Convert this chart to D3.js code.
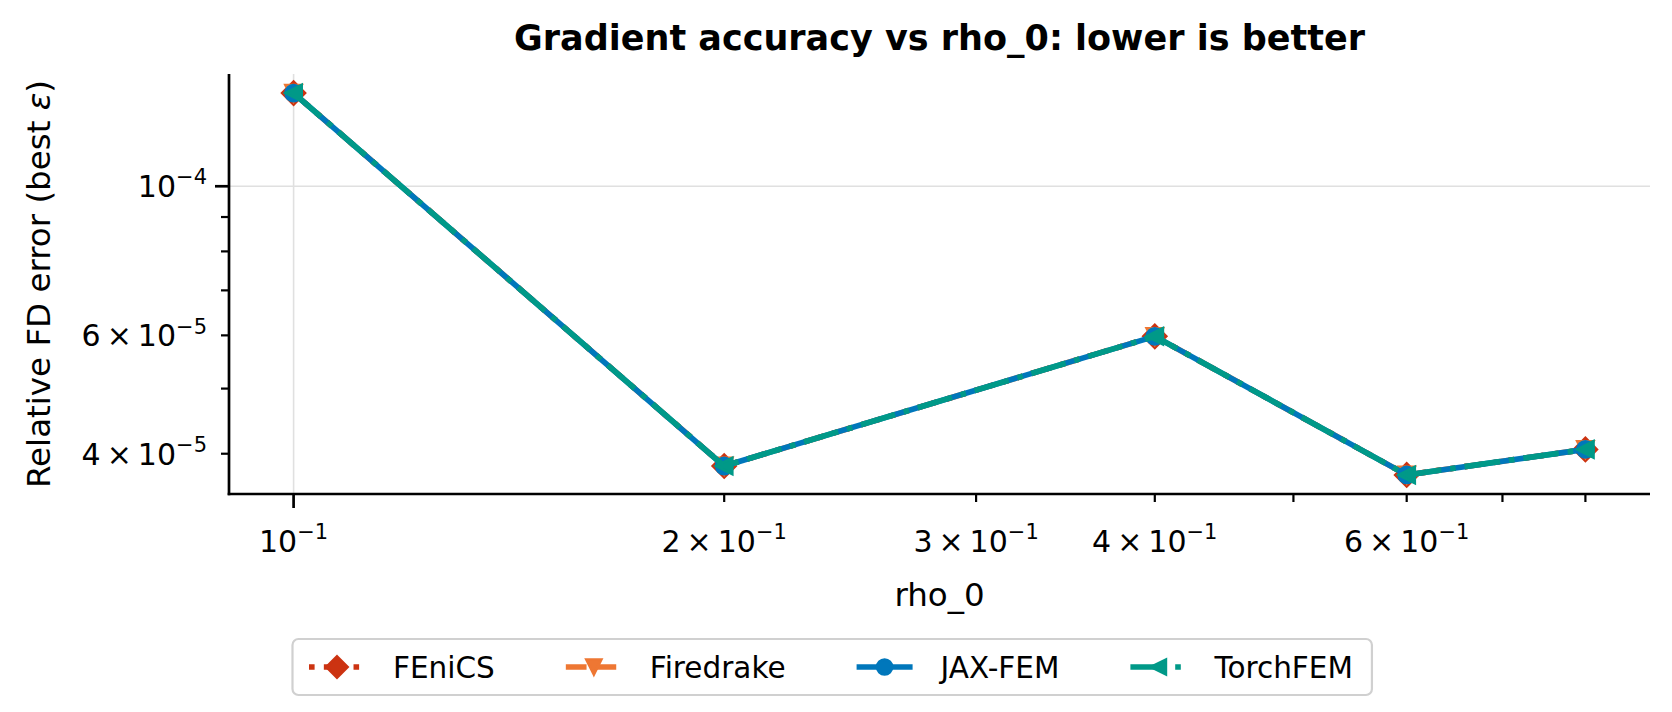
<!DOCTYPE html>
<html>
<head>
<meta charset="utf-8">
<script src="https://cdn.jsdelivr.net/npm/d3@7"></script>
<style>
  html, body { margin: 0; padding: 0; background: #ffffff; }
  svg { display: block; }
  text { font-family: "DejaVu Sans", sans-serif; fill: #000; }
</style>
</head>
<body>
<svg id="chart" width="1672" height="712"></svg>
<script>
// ---------------- data ----------------
const rho0 = [0.1, 0.2, 0.4, 0.6, 0.8];
const fenicsErr    = [1.376e-4, 3.835e-5, 5.98e-5, 3.72e-5, 4.06e-5];
const firedrakeErr = [1.376e-4, 3.835e-5, 5.98e-5, 3.72e-5, 4.06e-5];
const jaxfemErr    = [1.376e-4, 3.835e-5, 5.98e-5, 3.72e-5, 4.06e-5];
const torchfemErr  = [1.376e-4, 3.835e-5, 5.98e-5, 3.72e-5, 4.06e-5];
const seriesNames  = ["FEniCS", "Firedrake", "JAX-FEM", "TorchFEM"];

const xMajorTicks = [0.1];
const xMinorTicks = [0.2, 0.3, 0.4, 0.5, 0.6, 0.7, 0.8];
const xTickLabels = [[0.1, "", "\u22121"], [0.2, "2", "\u22121"], [0.3, "3", "\u22121"], [0.4, "4", "\u22121"], [0.6, "6", "\u22121"]];
const yMajorTicks = [1e-4];
const yMinorTicks = [4e-5, 5e-5, 6e-5, 7e-5, 8e-5, 9e-5];
const yTickLabels = [[1e-4, "", "\u22124"], [6e-5, "6", "\u22125"], [4e-5, "4", "\u22125"]];

const titleText = "Gradient accuracy vs rho_0: lower is better";
const xLabelText = "rho_0";
const yLabelText = "Relative FD error (best ";

(function () {
const styles = [
  { color: "#CC3311", dash: "dotted",  marker: "diamond" },
  { color: "#EE7733", dash: "dashed",  marker: "tridown" },
  { color: "#0077BB", dash: "solid",   marker: "circle" },
  { color: "#009988", dash: "dashdot", marker: "trileft" }
];
const allSeries = [fenicsErr, firedrakeErr, jaxfemErr, torchfemErr];

const LW = 5.6;
function dashArray(kind) {
  if (kind === "dotted") return [1 * LW, 1.65 * LW].join(",");
  if (kind === "dashed") return [3.7 * LW, 1.6 * LW].join(",");
  if (kind === "dashdot") return [6.4 * LW, 1.6 * LW, 1 * LW, 1.6 * LW].join(",");
  return null;
}

const pL = 229, pR = 1650, pT = 74, pB = 494;
const FS = 30, LABFS = 32.5;

const svg = d3.select("#chart");

function paddedLogDomain(vals) {
  const lo = Math.log10(d3.min(vals)), hi = Math.log10(d3.max(vals));
  const m = (hi - lo) * 0.05;
  return [Math.pow(10, lo - m), Math.pow(10, hi + m)];
}
const x = d3.scaleLog().domain(paddedLogDomain(rho0)).range([pL, pR]);
const y = d3.scaleLog().domain(paddedLogDomain(allSeries.flat())).range([pB, pT]);

const grid = svg.append("g");
xMajorTicks.forEach(v => grid.append("line")
  .attr("x1", x(v)).attr("x2", x(v)).attr("y1", pT).attr("y2", pB)
  .attr("stroke", "#e0e0e0").attr("stroke-width", 1.6));
yMajorTicks.forEach(v => grid.append("line")
  .attr("x1", pL).attr("x2", pR).attr("y1", y(v)).attr("y2", y(v))
  .attr("stroke", "#e0e0e0").attr("stroke-width", 1.6));

function markerPath(kind, s) {
  const h = s / 2;
  if (kind === "diamond") { const d = h * Math.SQRT2; return `M0,${-d}L${d},0L0,${d}L${-d},0Z`; }
  if (kind === "tridown") return `M0,${h}L${-h},${-h}L${h},${-h}Z`;
  if (kind === "trileft") return `M${-h},0L${h},${-h}L${h},${h}Z`;
  return d3.symbol(d3.symbolCircle, Math.PI * h * h)();
}
const line = d3.line().x(d => x(d[0])).y(d => y(d[1]));
const plot = svg.append("g");
allSeries.forEach((vals, i) => {
  const st = styles[i];
  const pts = rho0.map((r, j) => [r, vals[j]]);
  plot.append("path").datum(pts).attr("d", line)
    .attr("fill", "none").attr("stroke", st.color).attr("stroke-width", LW)
    .attr("stroke-linejoin", "round").attr("stroke-linecap", "butt")
    .attr("stroke-dasharray", dashArray(st.dash));
  plot.selectAll(null).data(pts).enter().append("path")
    .attr("transform", d => `translate(${x(d[0])},${y(d[1])})`)
    .attr("d", markerPath(st.marker, 16))
    .attr("fill", st.color).attr("stroke", st.color).attr("stroke-width", 2.8)
    .attr("stroke-linejoin", "miter");
});

svg.append("line").attr("x1", pL).attr("x2", pL).attr("y1", pT).attr("y2", pB + 1.3)
  .attr("stroke", "#000").attr("stroke-width", 2.7);
svg.append("line").attr("x1", pL - 1.3).attr("x2", pR).attr("y1", pB).attr("y2", pB)
  .attr("stroke", "#000").attr("stroke-width", 2.7);

const ax = svg.append("g");
xMajorTicks.forEach(v => ax.append("line").attr("x1", x(v)).attr("x2", x(v)).attr("y1", pB).attr("y2", pB + 14).attr("stroke", "#000").attr("stroke-width", 2.7));
xMinorTicks.forEach(v => ax.append("line").attr("x1", x(v)).attr("x2", x(v)).attr("y1", pB).attr("y2", pB + 8).attr("stroke", "#000").attr("stroke-width", 2.2));
yMajorTicks.forEach(v => ax.append("line").attr("x1", pL - 14).attr("x2", pL).attr("y1", y(v)).attr("y2", y(v)).attr("stroke", "#000").attr("stroke-width", 2.7));
yMinorTicks.forEach(v => ax.append("line").attr("x1", pL - 8).attr("x2", pL).attr("y1", y(v)).attr("y2", y(v)).attr("stroke", "#000").attr("stroke-width", 2.2));

function mathLabel(g, px, py, anchor, mant, sup) {
  const t = g.append("text").attr("x", px).attr("y", py).attr("text-anchor", anchor)
    .style("font-size", FS + "px");
  if (mant) {
    t.append("tspan").text(mant);
    t.append("tspan").attr("dx", 0.2 * FS).text("\u00d7");
    t.append("tspan").attr("dx", 0.2 * FS).text("10");
  } else {
    t.append("tspan").text("10");
  }
  t.append("tspan").attr("dy", -0.42 * FS).style("font-size", (0.7 * FS) + "px").text(sup);
  return t;
}
xTickLabels.forEach(([v, b, s]) => mathLabel(ax, x(v), 552, "middle", b, s));
yTickLabels.forEach(([v, b, s]) => mathLabel(ax, pL - 22, y(v) + 0.36 * FS, "end", b, s));

svg.append("text").attr("x", (pL + pR) / 2).attr("y", 606).attr("text-anchor", "middle")
  .style("font-size", LABFS + "px").text(xLabelText);
const yl = svg.append("text").attr("transform", `translate(50,${(pT + pB) / 2}) rotate(-90)`)
  .attr("text-anchor", "middle").style("font-size", LABFS + "px");
yl.append("tspan").text(yLabelText);
yl.append("tspan").style("font-style", "italic").text("\u03b5");
yl.append("tspan").text(")");
svg.append("text").attr("x", (pL + pR) / 2).attr("y", 50).attr("text-anchor", "middle")
  .style("font-size", "35px").style("font-weight", "bold").text(titleText);

// legend
const LFS = 29.5;
const lg = svg.append("g");
const frame = lg.append("rect");
const handleLen = 56, pad = 28, colSp = 71, bpadL = 16.5, bpadR = 19;
const items = [];
seriesNames.forEach((name, i) => {
  const g = lg.append("g");
  const t = g.append("text").style("font-size", LFS + "px").text(name);
  const w = t.node().getComputedTextLength();
  items.push({ g, t, w, i });
});
const totalW = d3.sum(items, d => d.w) + items.length * (handleLen + pad) + (items.length - 1) * colSp + bpadL + bpadR;
const lx0 = 292.5, ly0 = 639, lh = 56;
frame.attr("x", lx0).attr("y", ly0).attr("width", totalW).attr("height", lh).attr("rx", 6)
  .attr("fill", "#ffffff").attr("fill-opacity", 0.8).attr("stroke", "#d0d0d0").attr("stroke-width", 2.2);
let cx = lx0 + bpadL;
const lyc = ly0 + lh / 2;
items.forEach(it => {
  const st = styles[it.i];
  it.g.insert("line", "text").attr("x1", cx).attr("x2", cx + handleLen).attr("y1", lyc).attr("y2", lyc)
    .attr("stroke", st.color).attr("stroke-width", LW).attr("stroke-dasharray", dashArray(st.dash));
  it.g.insert("path", "text").attr("transform", `translate(${cx + handleLen / 2},${lyc})`)
    .attr("d", markerPath(st.marker, 15)).attr("fill", st.color).attr("stroke", st.color).attr("stroke-width", 2.6);
  it.t.attr("x", cx + handleLen + pad).attr("y", lyc + 0.36 * LFS);
  cx += handleLen + pad + it.w + colSp;
});
})();
</script>
</body>
</html>
